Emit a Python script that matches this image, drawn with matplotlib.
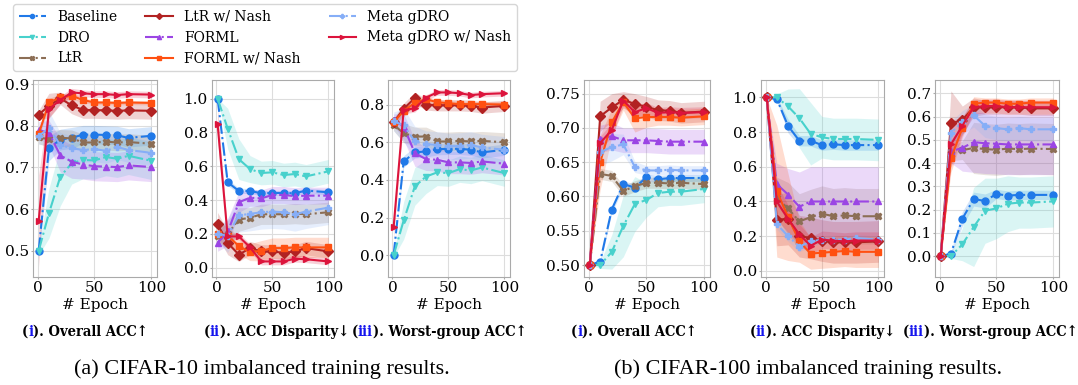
import matplotlib
matplotlib.use("Agg")
from matplotlib import pyplot as plt
from matplotlib import rcParams
import numpy as np

rcParams['font.family'] = ['DejaVu Serif']
rcParams['font.size'] = 11

# epochs at which the runs were evaluated
epochs = [1, 10, 20, 30, 40, 50, 60, 70, 80, 100]

methods = ["Baseline", "DRO", "LtR", "LtR w/ Nash", "FORML", "FORML w/ Nash",
           "Meta gDRO", "Meta gDRO w/ Nash"]
colors = ["#2079e8", "#48d1cc", "#8c6e55", "#b22222", "#9b45e4", "#ff5011",
          "#86aef7", "#dc143c"]
markers = ["o", "v", "X", "D", "^", "s", "P", ">"]

# ---- CIFAR-10 : overall acc ----
c10_overall = {
    "Baseline": [0.5, 0.746, 0.767, 0.771, 0.779, 0.779, 0.778, 0.777, 0.771, 0.776],
    "DRO": [0.5, 0.59, 0.678, 0.71, 0.718, 0.717, 0.725, 0.721, 0.728, 0.716],
    "LtR": [0.772, 0.768, 0.771, 0.77, 0.76, 0.76, 0.762, 0.76, 0.761, 0.757],
    "LtR w/ Nash": [0.827, 0.848, 0.866, 0.849, 0.838, 0.838, 0.837, 0.836, 0.837, 0.836],
    "FORML": [0.79, 0.783, 0.729, 0.714, 0.707, 0.703, 0.702, 0.701, 0.705, 0.701],
    "FORML w/ Nash": [0.78, 0.856, 0.868, 0.872, 0.862, 0.856, 0.856, 0.855, 0.856, 0.855],
    "Meta gDRO": [0.775, 0.795, 0.754, 0.746, 0.742, 0.744, 0.74, 0.749, 0.742, 0.735],
    "Meta gDRO w/ Nash": [0.572, 0.84, 0.862, 0.88, 0.878, 0.876, 0.876, 0.874, 0.876, 0.875],
}
c10_overall_sd = {
    "Baseline": [0.01, 0.03, 0.025, 0.025, 0.022, 0.022, 0.022, 0.022, 0.022, 0.022],
    "DRO": [0.01, 0.06, 0.07, 0.05, 0.045, 0.045, 0.045, 0.045, 0.045, 0.045],
    "LtR": [0.015, 0.02, 0.02, 0.02, 0.02, 0.02, 0.02, 0.02, 0.02, 0.02],
    "LtR w/ Nash": [0.01, 0.03, 0.015, 0.02, 0.02, 0.02, 0.02, 0.02, 0.02, 0.02],
    "FORML": [0.02, 0.03, 0.04, 0.04, 0.035, 0.035, 0.035, 0.035, 0.035, 0.035],
    "FORML w/ Nash": [0.01, 0.01, 0.008, 0.008, 0.006, 0.005, 0.005, 0.005, 0.005, 0.005],
    "Meta gDRO": [0.02, 0.04, 0.03, 0.03, 0.03, 0.03, 0.03, 0.03, 0.03, 0.03],
    "Meta gDRO w/ Nash": [0.11, 0.02, 0.01, 0.01, 0.008, 0.008, 0.008, 0.008, 0.008, 0.008],
}

# ---- CIFAR-10 : acc disparity ----
c10_disp = {
    "Baseline": [1.0, 0.505, 0.454, 0.454, 0.44, 0.442, 0.442, 0.44, 0.456, 0.446],
    "DRO": [1.0, 0.823, 0.642, 0.583, 0.56, 0.564, 0.548, 0.554, 0.54, 0.57],
    "LtR": [0.19, 0.2, 0.285, 0.295, 0.316, 0.316, 0.316, 0.32, 0.316, 0.328],
    "LtR w/ Nash": [0.257, 0.147, 0.077, 0.116, 0.096, 0.096, 0.088, 0.096, 0.116, 0.096],
    "FORML": [0.147, 0.21, 0.387, 0.414, 0.41, 0.43, 0.43, 0.423, 0.426, 0.426],
    "FORML w/ Nash": [0.2, 0.19, 0.128, 0.092, 0.10, 0.116, 0.116, 0.12, 0.12, 0.12],
    "Meta gDRO": [0.2, 0.19, 0.31, 0.318, 0.328, 0.332, 0.328, 0.316, 0.332, 0.355],
    "Meta gDRO w/ Nash": [0.849, 0.185, 0.185, 0.12, 0.037, 0.037, 0.037, 0.053, 0.05, 0.037],
}
c10_disp_sd = {
    "Baseline": [0.0, 0.02, 0.015, 0.015, 0.015, 0.015, 0.015, 0.015, 0.015, 0.015],
    "DRO": [0.0, 0.12, 0.12, 0.08, 0.07, 0.07, 0.07, 0.07, 0.07, 0.07],
    "LtR": [0.05, 0.08, 0.07, 0.06, 0.06, 0.06, 0.06, 0.06, 0.06, 0.06],
    "LtR w/ Nash": [0.07, 0.07, 0.04, 0.04, 0.04, 0.04, 0.04, 0.04, 0.04, 0.04],
    "FORML": [0.05, 0.08, 0.06, 0.05, 0.05, 0.05, 0.05, 0.05, 0.05, 0.05],
    "FORML w/ Nash": [0.05, 0.06, 0.05, 0.05, 0.06, 0.06, 0.06, 0.06, 0.06, 0.06],
    "Meta gDRO": [0.05, 0.1, 0.1, 0.1, 0.1, 0.1, 0.1, 0.1, 0.1, 0.1],
    "Meta gDRO w/ Nash": [0.1, 0.02, 0.02, 0.02, 0.02, 0.02, 0.02, 0.02, 0.02, 0.02],
}

# ---- CIFAR-10 : worst-group acc ----
c10_worst = {
    "Baseline": [0.0, 0.498, 0.546, 0.551, 0.563, 0.565, 0.565, 0.56, 0.546, 0.56],
    "DRO": [0.0, 0.185, 0.366, 0.418, 0.44, 0.436, 0.457, 0.45, 0.466, 0.436],
    "LtR": [0.692, 0.648, 0.63, 0.63, 0.604, 0.604, 0.607, 0.604, 0.607, 0.6],
    "LtR w/ Nash": [0.705, 0.777, 0.835, 0.8, 0.796, 0.796, 0.796, 0.793, 0.784, 0.793],
    "FORML": [0.72, 0.683, 0.542, 0.51, 0.507, 0.493, 0.493, 0.49, 0.498, 0.486],
    "FORML w/ Nash": [0.705, 0.766, 0.81, 0.828, 0.812, 0.807, 0.802, 0.802, 0.802, 0.8],
    "Meta gDRO": [0.71, 0.69, 0.604, 0.59, 0.586, 0.578, 0.58, 0.586, 0.572, 0.56],
    "Meta gDRO w/ Nash": [0.148, 0.77, 0.78, 0.837, 0.864, 0.864, 0.86, 0.85, 0.855, 0.86],
}
c10_worst_sd = {
    "Baseline": [0.0, 0.03, 0.03, 0.03, 0.03, 0.03, 0.03, 0.03, 0.03, 0.03],
    "DRO": [0.01, 0.1, 0.1, 0.09, 0.07, 0.07, 0.07, 0.07, 0.07, 0.07],
    "LtR": [0.03, 0.05, 0.05, 0.05, 0.05, 0.05, 0.05, 0.05, 0.05, 0.05],
    "LtR w/ Nash": [0.02, 0.03, 0.03, 0.03, 0.03, 0.03, 0.03, 0.03, 0.03, 0.03],
    "FORML": [0.03, 0.07, 0.07, 0.06, 0.06, 0.06, 0.06, 0.06, 0.06, 0.06],
    "FORML w/ Nash": [0.02, 0.03, 0.02, 0.015, 0.015, 0.015, 0.015, 0.015, 0.015, 0.015],
    "Meta gDRO": [0.05, 0.09, 0.08, 0.07, 0.07, 0.07, 0.07, 0.07, 0.07, 0.07],
    "Meta gDRO w/ Nash": [0.06, 0.02, 0.02, 0.015, 0.015, 0.015, 0.015, 0.015, 0.015, 0.015],
}

# ---- CIFAR-100 : overall acc ----
c100_overall = {
    "Baseline": [0.5, 0.505, 0.581, 0.618, 0.613, 0.628, 0.625, 0.627, 0.627, 0.627],
    "DRO": [0.5, 0.5, 0.519, 0.557, 0.589, 0.595, 0.605, 0.607, 0.607, 0.611],
    "LtR": [0.5, 0.633, 0.63, 0.608, 0.615, 0.62, 0.62, 0.619, 0.62, 0.618],
    "LtR w/ Nash": [0.5, 0.717, 0.73, 0.741, 0.735, 0.731, 0.726, 0.725, 0.722, 0.724],
    "FORML": [0.5, 0.684, 0.688, 0.682, 0.682, 0.682, 0.681, 0.68, 0.68, 0.68],
    "FORML w/ Nash": [0.5, 0.65, 0.708, 0.738, 0.714, 0.716, 0.716, 0.716, 0.715, 0.717],
    "Meta gDRO": [0.5, 0.665, 0.672, 0.676, 0.643, 0.638, 0.638, 0.639, 0.638, 0.638],
    "Meta gDRO w/ Nash": [0.5, 0.678, 0.697, 0.74, 0.723, 0.729, 0.722, 0.723, 0.722, 0.723],
}
c100_overall_sd = {
    "Baseline": [0.0, 0.003, 0.005, 0.005, 0.005, 0.005, 0.005, 0.005, 0.005, 0.005],
    "DRO": [0.0, 0.005, 0.025, 0.045, 0.04, 0.025, 0.02, 0.02, 0.02, 0.02],
    "LtR": [0.0, 0.008, 0.008, 0.008, 0.008, 0.008, 0.008, 0.008, 0.008, 0.008],
    "LtR w/ Nash": [0.0, 0.022, 0.02, 0.012, 0.015, 0.015, 0.015, 0.015, 0.015, 0.015],
    "FORML": [0.0, 0.02, 0.02, 0.018, 0.018, 0.018, 0.018, 0.018, 0.018, 0.018],
    "FORML w/ Nash": [0.0, 0.04, 0.02, 0.012, 0.02, 0.015, 0.012, 0.012, 0.012, 0.012],
    "Meta gDRO": [0.0, 0.02, 0.02, 0.015, 0.008, 0.007, 0.007, 0.007, 0.007, 0.007],
    "Meta gDRO w/ Nash": [0.0, 0.01, 0.01, 0.008, 0.01, 0.008, 0.008, 0.008, 0.008, 0.008],
}

# ---- CIFAR-100 : acc disparity ----
c100_disp = {
    "Baseline": [1.0, 0.99, 0.835, 0.75, 0.75, 0.725, 0.73, 0.725, 0.725, 0.725],
    "DRO": [1.0, 1.0, 0.948, 0.88, 0.79, 0.77, 0.76, 0.76, 0.76, 0.755],
    "LtR": [1.0, 0.42, 0.36, 0.285, 0.31, 0.33, 0.315, 0.32, 0.315, 0.315],
    "LtR w/ Nash": [1.0, 0.295, 0.3, 0.2, 0.19, 0.175, 0.165, 0.165, 0.165, 0.17],
    "FORML": [1.0, 0.5, 0.44, 0.37, 0.4, 0.4, 0.4, 0.4, 0.4, 0.4],
    "FORML w/ Nash": [1.0, 0.46, 0.31, 0.17, 0.1, 0.105, 0.11, 0.115, 0.11, 0.11],
    "Meta gDRO": [1.0, 0.27, 0.2, 0.14, 0.17, 0.18, 0.18, 0.18, 0.19, 0.18],
    "Meta gDRO w/ Nash": [1.0, 0.4, 0.3, 0.21, 0.145, 0.18, 0.175, 0.17, 0.175, 0.175],
}
c100_disp_sd = {
    "Baseline": [0.0, 0.01, 0.04, 0.03, 0.03, 0.03, 0.03, 0.03, 0.03, 0.03],
    "DRO": [0.0, 0.02, 0.1, 0.17, 0.18, 0.12, 0.12, 0.12, 0.12, 0.12],
    "LtR": [0.0, 0.12, 0.15, 0.16, 0.16, 0.16, 0.16, 0.16, 0.16, 0.16],
    "LtR w/ Nash": [0.0, 0.15, 0.15, 0.12, 0.12, 0.12, 0.12, 0.12, 0.12, 0.12],
    "FORML": [0.0, 0.12, 0.15, 0.2, 0.2, 0.2, 0.2, 0.2, 0.2, 0.2],
    "FORML w/ Nash": [0.0, 0.38, 0.25, 0.12, 0.09, 0.09, 0.09, 0.09, 0.09, 0.09],
    "Meta gDRO": [0.0, 0.03, 0.03, 0.03, 0.03, 0.02, 0.02, 0.02, 0.02, 0.02],
    "Meta gDRO w/ Nash": [0.0, 0.1, 0.08, 0.06, 0.05, 0.05, 0.05, 0.05, 0.05, 0.05],
}

# ---- CIFAR-100 : worst-group acc ----
c100_worst = {
    "Baseline": [0.0, 0.01, 0.16, 0.245, 0.237, 0.267, 0.26, 0.263, 0.263, 0.263],
    "DRO": [0.0, 0.0, 0.05, 0.125, 0.195, 0.205, 0.225, 0.23, 0.23, 0.235],
    "LtR": [0.0, 0.44, 0.455, 0.465, 0.46, 0.457, 0.462, 0.46, 0.462, 0.46],
    "LtR w/ Nash": [0.0, 0.57, 0.585, 0.64, 0.64, 0.64, 0.64, 0.64, 0.635, 0.635],
    "FORML": [0.0, 0.45, 0.465, 0.49, 0.485, 0.483, 0.48, 0.48, 0.48, 0.48],
    "FORML w/ Nash": [0.0, 0.42, 0.55, 0.655, 0.66, 0.66, 0.655, 0.655, 0.66, 0.66],
    "Meta gDRO": [0.0, 0.53, 0.575, 0.605, 0.56, 0.55, 0.545, 0.55, 0.545, 0.545],
    "Meta gDRO w/ Nash": [0.0, 0.48, 0.56, 0.64, 0.645, 0.645, 0.64, 0.64, 0.64, 0.64],
}
c100_worst_sd = {
    "Baseline": [0.0, 0.01, 0.03, 0.03, 0.03, 0.02, 0.02, 0.02, 0.02, 0.02],
    "DRO": [0.0, 0.01, 0.07, 0.17, 0.14, 0.13, 0.12, 0.11, 0.11, 0.11],
    "LtR": [0.0, 0.03, 0.04, 0.11, 0.11, 0.11, 0.11, 0.11, 0.11, 0.11],
    "LtR w/ Nash": [0.0, 0.14, 0.06, 0.04, 0.03, 0.03, 0.03, 0.03, 0.03, 0.03],
    "FORML": [0.0, 0.05, 0.1, 0.13, 0.13, 0.13, 0.13, 0.13, 0.13, 0.13],
    "FORML w/ Nash": [0.0, 0.06, 0.04, 0.03, 0.02, 0.02, 0.02, 0.02, 0.02, 0.02],
    "Meta gDRO": [0.0, 0.05, 0.05, 0.05, 0.05, 0.05, 0.05, 0.05, 0.05, 0.05],
    "Meta gDRO w/ Nash": [0.0, 0.1, 0.04, 0.03, 0.03, 0.03, 0.03, 0.03, 0.03, 0.03],
}

panels = [
    (c10_overall, c10_overall_sd, (0.437, 0.91), [0.5, 0.6, 0.7, 0.8, 0.9]),
    (c10_disp, c10_disp_sd, (-0.055, 1.11), [0.0, 0.2, 0.4, 0.6, 0.8, 1.0]),
    (c10_worst, c10_worst_sd, (-0.115, 0.93), [0.0, 0.2, 0.4, 0.6, 0.8]),
    (c100_overall, c100_overall_sd, (0.4825, 0.77), [0.5, 0.55, 0.6, 0.65, 0.7, 0.75]),
    (c100_disp, c100_disp_sd, (-0.035, 1.10), [0.0, 0.2, 0.4, 0.6, 0.8, 1.0]),
    (c100_worst, c100_worst_sd, (-0.09, 0.757), [0.0, 0.1, 0.2, 0.3, 0.4, 0.5, 0.6, 0.7]),
]
ylabels_fmt = ["%.1f", "%.1f", "%.1f", "%.2f", "%.1f", "%.1f"]

subtitles = [("i", ". Overall ACC\u2191"), ("ii", ". ACC Disparity\u2193"),
             ("iii", ". Worst-group ACC\u2191")] * 2
captions = ["(a) CIFAR-10 imbalanced training results.",
            "(b) CIFAR-100 imbalanced training results."]

W, H = 1078, 385
fig = plt.figure(figsize=(W / 100, H / 100), dpi=100)

# axes boxes in pixels (left, right)
boxes = [(33, 157), (212, 334), (388, 510), (584, 710), (761, 884), (935, 1059)]
top_px, bot_px = 80, 277
sub_centers = [85, 276, 439, 634, 822, 990]

handles = []
for k, (means, sds, ylim, yt) in enumerate(panels):
    l, r = boxes[k]
    ax = fig.add_axes([l / W, 1 - bot_px / H, (r - l) / W, (bot_px - top_px) / H])
    for i, m in enumerate(methods):
        y = np.array(means[m])
        s = np.array(sds[m])
        ax.fill_between(epochs, y - s, y + s, color=colors[i], alpha=0.2, lw=0)
    for i, m in enumerate(methods):
        ls = "-" if "Nash" in m else "-."
        ln, = ax.plot(epochs, means[m], ls, color=colors[i], marker=markers[i],
                      markersize=5, lw=1.5, label=m)
        if k == 0:
            handles.append(ln)
    ax.set_xlim(-4, 105)
    ax.set_ylim(*ylim)
    ax.set_xticks([0, 50, 100])
    ax.set_yticks(yt)
    ax.yaxis.set_major_formatter(matplotlib.ticker.FormatStrFormatter(ylabels_fmt[k]))
    ax.grid(True, color="#dddddd", lw=0.8)
    ax.set_axisbelow(True)
    for sp in ax.spines.values():
        sp.set_color("#aaaaaa")
    ax.tick_params(colors="#aaaaaa", labelcolor="black", labelsize=11, length=1.5, pad=1.5)
    ax.set_xlabel("# Epoch", fontsize=11, labelpad=2)

fig.legend(handles=handles, ncol=3, loc="upper left", bbox_to_anchor=(13 / W, 1 - 4 / H),
           fontsize=10, markerscale=0.6, frameon=True, edgecolor="#cccccc", fancybox=True,
           borderaxespad=0)

# subtitles with blue roman numerals
sub_texts = []
for k, (num, rest) in enumerate(subtitles):
    parts = [("(", "black"), (num, "#1515ee"), (")" + rest, "black")]
    ts = []
    for s, c in parts:
        t = fig.text(0, 1 - 332 / H, s, color=c, fontsize=10.5, fontweight="bold",
                     fontstretch="condensed", va="center", ha="left",
                     family=["DejaVu Serif"])
        ts.append(t)
    sub_texts.append(ts)

for j, cap in enumerate(captions):
    fig.text([262 / W, 808 / W][j], 1 - 369 / H, cap, fontsize=16, ha="center",
             va="center", family=["Liberation Serif", "DejaVu Serif"])

fig.canvas.draw()
rend = fig.canvas.get_renderer()
for k, ts in enumerate(sub_texts):
    widths = [t.get_window_extent(rend).width for t in ts]
    x = sub_centers[k] - sum(widths) / 2
    for t, w in zip(ts, widths):
        t.set_x(x / W)
        x += w

fig.savefig("out.png", dpi=100)
